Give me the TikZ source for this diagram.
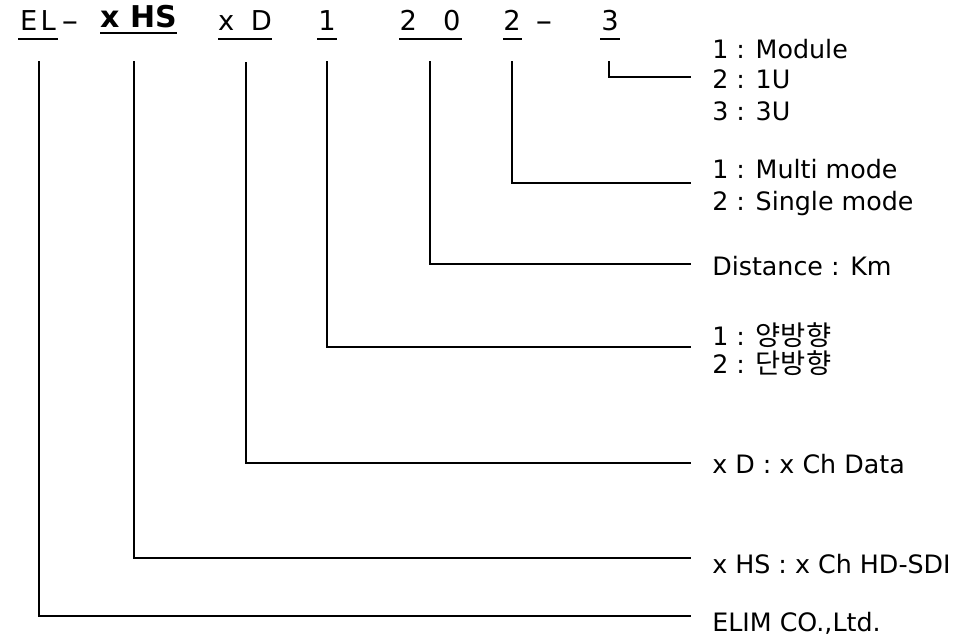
\documentclass[tikz,border=0pt]{standalone}
\usepackage{fontspec}
\setmainfont{DejaVu Sans}
\newfontfamily\krfont{Noto Sans CJK KR}
\begin{document}
\begin{tikzpicture}[x=0.75pt,y=-0.75pt,
  top/.style={font=\fontsize{20.5}{24}\selectfont, inner sep=0, anchor=base},
  topb/.style={font=\fontsize{22.5}{26}\bfseries\selectfont, inner sep=0, anchor=base},
  lab/.style={font=\fontsize{19}{22}\selectfont, inner sep=0, anchor=base west},
  kr/.style={font=\fontsize{20.5}{22}\krfont},
  conn/.style={draw, line width=1.8pt, line join=miter},
  uline/.style={draw, line width=1.1pt},
  ulineb/.style={draw, line width=1.9pt}]
\useasboundingbox (0,0) rectangle (977,639);
% top code
\node[top] (tEL) at (38,30) {E\kern2.5pt L};
\node[top] (dA) at (70,30) {\scalebox{1.8}[1]{-}};
\node[topb] (tHS) at (138.5,27.5) {x HS};
\node[top] (tD) at (245,30) {x\hspace{6pt} D};
\node[top] (t1) at (327,30) {1};
\node[top] (t20) at (430,30) {2\hspace{13pt} 0};
\node[top] (t2) at (512,30) {2};
\node[top] (dB) at (544,30) {\scalebox{1.8}[1]{-}};
\node[top] (t3) at (610,30) {3};
% underlines
\draw[uline] (18,39) -- (58,39);
\draw[ulineb] (100,33) -- (177,33);
\draw[uline] (218,39) -- (272,39);
\draw[uline] (317,39) -- (337,39);
\draw[uline] (399,39) -- (462,39);
\draw[uline] (503,39) -- (522,39);
\draw[uline] (600,39) -- (620,39);
% line starts
\coordinate (vEL) at (39,61);
\coordinate (vHS) at (134,61);
\coordinate (vD) at (246,62);
\coordinate (v1) at (327,61);
\coordinate (v20) at (430,61);
\coordinate (v2) at (512,61);
\coordinate (v3) at (609,61);
% line ends
\coordinate (eEL) at (691,616);
\coordinate (eHS) at (691,558);
\coordinate (eD) at (691,463);
\coordinate (e1) at (691,347);
\coordinate (e20) at (691,264);
\coordinate (e2) at (691,183);
\coordinate (e3) at (691,77);
% labels
\node[lab] (l3a) at (712,58.7) {1 : Module};
\node[lab] (l3b) at (712,88.7) {2 : 1U};
\node[lab] (l3c) at (712,120.7) {3 : 3U};
\node[lab] (l2a) at (712,178.7) {1 : Multi mode};
\node[lab] (l2b) at (712,210.7) {2 : Single mode};
\node[lab] (l20) at (712,275.7) {Distance : Km};
\node[lab] (l1a) at (712,345.7) {1 : {\fontsize{20.5}{22}\krfont 양방향}};
\node[lab] (l1b) at (712,373.7) {2 : {\fontsize{20.5}{22}\krfont 단방향}};
\node[lab] (lD) at (712,473.7) {x D : x Ch Data};
\node[lab] (lHS) at (712,573.7) {x HS : x Ch HD-SDI};
\node[lab] (lEL) at (712,631.7) {ELIM CO.,Ltd.};
% connectors
\draw[conn] (vEL) |- (eEL);
\draw[conn] (vHS) |- (eHS);
\draw[conn] (vD) |- (eD);
\draw[conn] (v1) |- (e1);
\draw[conn] (v20) |- (e20);
\draw[conn] (v2) |- (e2);
\draw[conn] (v3) |- (e3);
\end{tikzpicture}
\end{document}
